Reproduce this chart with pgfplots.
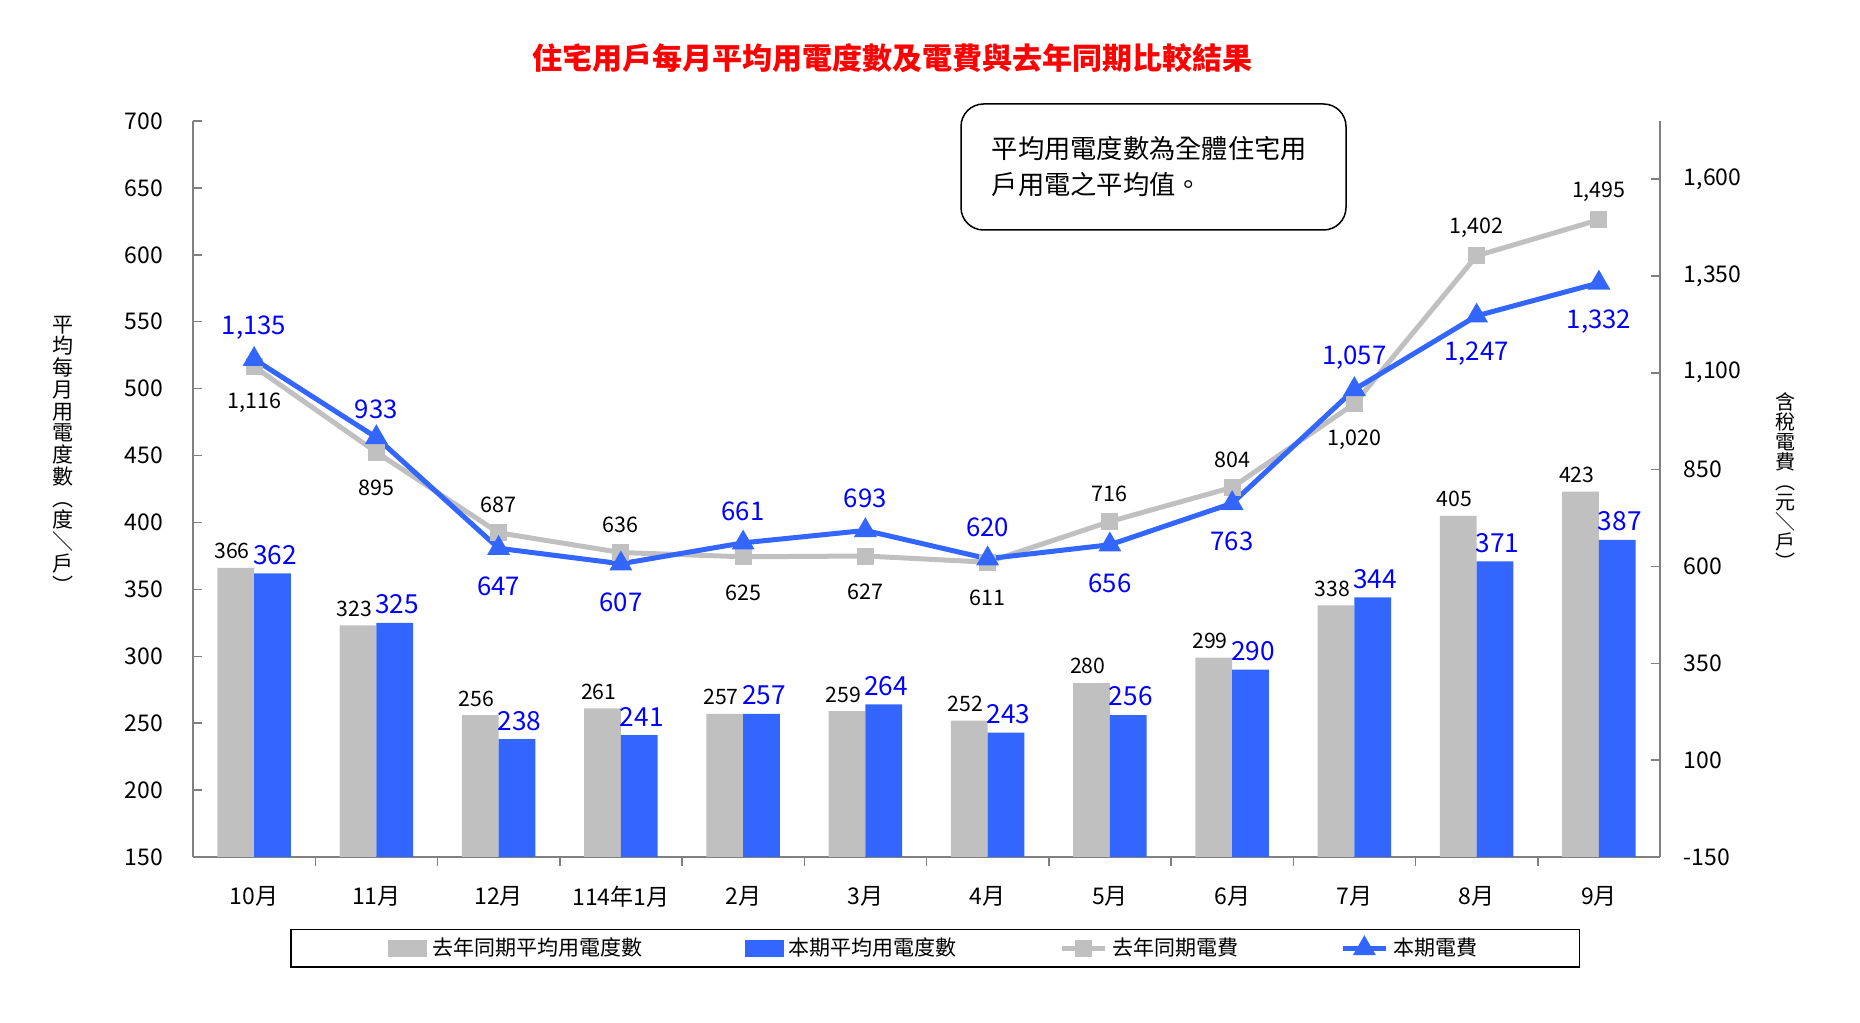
\documentclass[border=0pt]{standalone}
\usepackage{fontspec}
\setmainfont{Noto Sans CJK TC}
\usepackage{pgfplots}
\usepackage{pgfplotstable}
\pgfplotsset{compat=1.18}

\definecolor{barGrey}{HTML}{C0C0C0}
\definecolor{barBlue}{HTML}{3366FF}
\definecolor{axisGrey}{HTML}{808080}

% average kWh per household
\pgfplotstableread{
x last cur
0 366 362
1 323 325
2 256 238
3 261 241
4 257 257
5 259 264
6 252 243
7 280 256
8 299 290
9 338 344
10 405 371
11 423 387
}\bartable

% bill incl. tax, with label offsets (pt)
\pgfplotstableread{
x lastfee dyl curfee dyc
0 1116 -13 1135 14
1 895 -13 933 12.5
2 687 12.5 647 -14
3 636 12.5 607 -14
4 625 -13 661 14
5 627 -13 693 14
6 611 -13 620 14
7 716 12.5 656 -14
8 804 12.5 763 -14
9 1020 -13 1057 14
10 1402 12.5 1247 -14
11 1495 12.5 1332 -14
}\feetable

\begin{document}
\begin{tikzpicture}
\path[use as bounding box] (-77.2pt,-66.4pt) rectangle (666.8pt,342.8pt);

\begin{axis}[
  at={(0,0)}, anchor=south west,
  width=586.8pt, height=294.4pt, scale only axis,
  xmin=-0.5, xmax=11.5, ymin=150, ymax=700,
  axis y line*=left, axis x line*=bottom,
  axis line style={draw=axisGrey, line width=0.8pt},
  ytick={150,200,...,700},
  xtick={0,...,11},
  xticklabels={10月,11月,12月,114年1月,2月,3月,4月,5月,6月,7月,8月,9月},
  minor xtick={0.5,1.5,...,10.5},
  major x tick style={draw=none},
  tick align=inside,
  major tick length=3.5pt, minor tick length=3.5pt,
  tick style={axisGrey, line width=0.6pt},
  tick label style={font=\fontsize{9.2}{11}\selectfont},
  yticklabel style={xshift=-8.5pt},
  xticklabel style={yshift=-4.6pt},
  /pgf/number format/assume math mode=true,
  ybar=0pt, bar width=0.3,
]
\addplot[fill=barGrey, draw=none, nodes near coords,
  nodes near coords style={font=\fontsize{8.5}{10}\selectfont, text=black, xshift=-1.5pt}]
  table[x=x, y=last]{\bartable};
\addplot[fill=barBlue, draw=none, nodes near coords,
  nodes near coords style={font=\fontsize{10.5}{12}\selectfont, text=blue, xshift=1pt}]
  table[x=x, y=cur]{\bartable};
\end{axis}

\begin{axis}[
  at={(0,0)}, anchor=south west,
  width=586.8pt, height=294.4pt, scale only axis,
  xmin=-0.5, xmax=11.5, ymin=-150, ymax=1750,
  axis y line*=right, axis x line=none,
  axis line style={draw=axisGrey, line width=0.8pt},
  ytick={-150,100,...,1600},
  tick align=inside, major tick length=3.5pt,
  tick style={axisGrey, line width=0.6pt},
  tick label style={font=\fontsize{9.2}{11}\selectfont},
  yticklabel style={xshift=6pt},
  /pgf/number format/assume math mode=true,
  /pgf/number format/1000 sep={,},
  legend columns=4,
  legend style={at={(rel axis cs:0.506,-0.1243)}, anchor=center,
    draw=black, line width=0.6pt, inner xsep=39pt, inner ysep=1.2pt,
    font=\fontsize{8.4}{10}\selectfont,
    /tikz/every even column/.append style={column sep=39pt}},
]
\addlegendimage{legend image code/.code={\fill[barGrey] (0pt,-3pt) rectangle (15pt,3pt);}}
\addlegendentry{去年同期平均用電度數}
\addlegendimage{legend image code/.code={\fill[barBlue] (0pt,-3pt) rectangle (15pt,3pt);}}
\addlegendentry{本期平均用電度數}
\addplot[color=barGrey, line width=2pt, mark=square*, mark size=2.4pt,
  mark options={fill=barGrey, solid},
  nodes near coords,
  visualization depends on={\thisrow{dyl}\as\dy},
  nodes near coords style={anchor=center, yshift={(\dy-1.3)*1pt},
    font=\fontsize{8.6}{10}\selectfont, text=black}]
  table[x=x, y=lastfee]{\feetable};
\addlegendentry{去年同期電費}
\addplot[color=barBlue, line width=2pt, mark=triangle*, mark size=3.3pt,
  mark options={fill=barBlue, solid},
  nodes near coords,
  visualization depends on={\thisrow{dyc}\as\dc},
  nodes near coords style={anchor=center, yshift={(\dc-1.3)*1pt},
    font=\fontsize{10.3}{12}\selectfont, text=blue}]
  table[x=x, y=curfee]{\feetable};
\addlegendentry{本期電費}
\end{axis}

\node[font=\fontsize{12}{14}\selectfont\bfseries, text=red] at (279.6pt,319.6pt)
  {住宅用戶每月平均用電度數及電費與去年同期比較結果};

\draw[line width=0.6pt, rounded corners=9pt] (307.2pt,250.8pt) rectangle (461.2pt,301.2pt);
\node[anchor=west, align=left, font=\fontsize{10.5}{14.4}\selectfont] at (316pt,276pt)
  {平均用電度數為全體住宅用\\戶用電之平均值。};

\node[align=center, font=\fontsize{8.4}{8.7}\selectfont] at (-52pt,161pt)
  {平\\均\\每\\月\\用\\電\\度\\數\\︵\\度\\＼\\戶\\︶};
\node[align=center, font=\fontsize{8}{8}\selectfont] at (636.8pt,150.4pt)
  {含\\稅\\電\\費\\︵\\元\\＼\\戶\\︶};
\end{tikzpicture}
\end{document}
